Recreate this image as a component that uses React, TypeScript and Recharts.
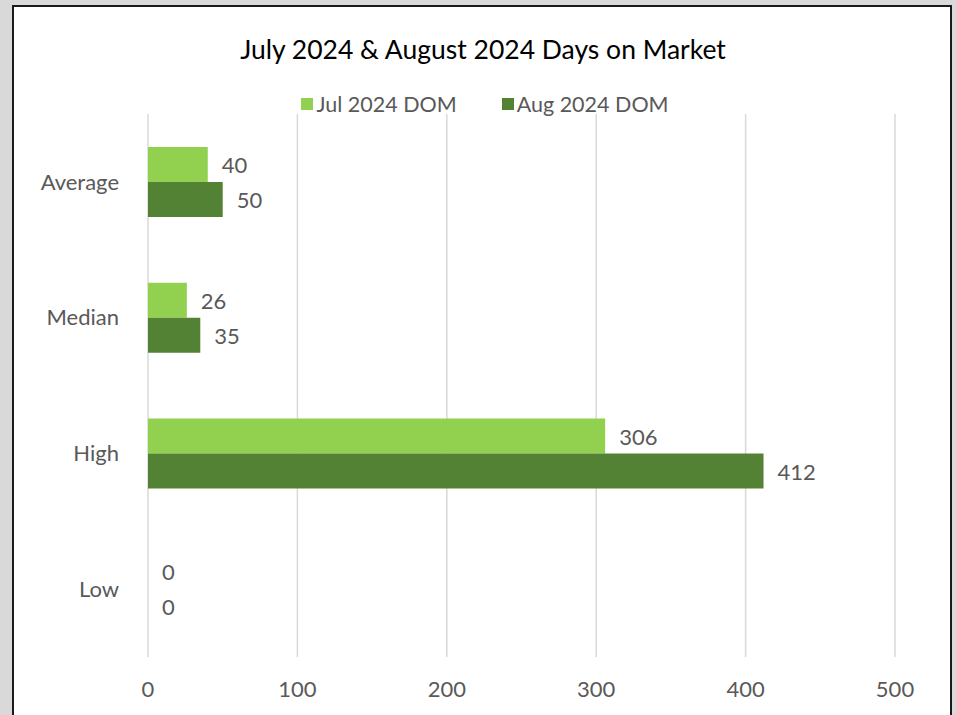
import React from "react";
import { BarChart, Bar, XAxis, YAxis, CartesianGrid, Legend, LabelList } from "recharts";

const categories = ["Average", "Median", "High", "Low"];
const jul2024Dom = [40, 26, 306, 0];
const aug2024Dom = [50, 35, 412, 0];
const xTicks = [0, 100, 200, 300, 400, 500];
const seriesNames = ["Jul 2024 DOM", "Aug 2024 DOM"];
const title = "July 2024 & August 2024 Days on Market";

const data = categories.map((name, i) => ({ name, jul: jul2024Dom[i], aug: aug2024Dom[i] }));

const FONT = "Lato, 'Open Sans', sans-serif";
const TEXT = "#595959";
const JUL = "#92D050";
const AUG = "#548235";
const seriesColors = [JUL, AUG];

const renderLegend = () => (
  <div style={{ display: "flex", justifyContent: "center", gap: 45, fontFamily: FONT, fontSize: 21.5, color: TEXT }}>
    {seriesNames.map((n, i) => (
      <div key={n} style={{ display: "flex", alignItems: "center" }}>
        <span style={{ display: "inline-block", width: 12, height: 12, background: seriesColors[i], marginRight: 3 }} />
        <span>{n}</span>
      </div>
    ))}
  </div>
);

const ValueLabel = (props: any) => {
  const { x, y, width, height, value } = props;
  if (x == null || y == null) return null;
  return (
    <text
      x={Number(x) + Number(width || 0) + 14}
      y={Number(y) + Number(height || 0) / 2}
      dominantBaseline="central"
      textAnchor="start"
      fill={TEXT}
      fontSize={22}
      fontFamily={FONT}
    >
      {value}
    </text>
  );
};

export default function App() {
  return (
    <div style={{ position: "absolute", left: 0, top: 0, width: 956, height: 715, background: "#D9D9D9", overflow: "hidden" }}>
      <div style={{ position: "absolute", left: 12, top: 5, width: 940, height: 760, background: "#FFFFFF", border: "2px solid #1A1A1A", boxSizing: "border-box" }} />
      <div style={{ position: "absolute", left: 13, top: 33, width: 940, textAlign: "center", fontFamily: FONT, fontSize: 26.5, color: "#000000" }}>
        {title}
      </div>
      <div style={{ position: "absolute", left: 0, top: 0 }}>
        <BarChart
          width={956}
          height={715}
          data={data}
          layout="vertical"
          margin={{ top: 114, right: 61, bottom: 18, left: 8 }}
          barGap={0}
        >
          <CartesianGrid horizontal={false} stroke="#D9D9D9" strokeWidth={1.5} />
          <XAxis
            type="number"
            domain={[0, 500]}
            ticks={xTicks}
            axisLine={false}
            tickLine={false}
            tickSize={0}
            tickMargin={24}
            height={40}
            tick={{ fill: TEXT, fontSize: 22, fontFamily: FONT }}
          />
          <YAxis
            type="category"
            dataKey="name"
            width={140}
            axisLine={false}
            tickLine={false}
            tickSize={0}
            tickMargin={29}
            tick={{ fill: TEXT, fontSize: 22, fontFamily: FONT }}
          />
          <Legend
            layout="horizontal"
            verticalAlign="middle"
            align="center"
            content={renderLegend}
            wrapperStyle={{ top: 91, left: 7, width: 956 }}
          />
          <Bar dataKey="jul" name={seriesNames[0]} fill={JUL} barSize={35} minPointSize={0.01} isAnimationActive={false}>
            <LabelList dataKey="jul" content={ValueLabel} />
          </Bar>
          <Bar dataKey="aug" name={seriesNames[1]} fill={AUG} barSize={35} minPointSize={0.01} isAnimationActive={false}>
            <LabelList dataKey="aug" content={ValueLabel} />
          </Bar>
        </BarChart>
      </div>
    </div>
  );
}
